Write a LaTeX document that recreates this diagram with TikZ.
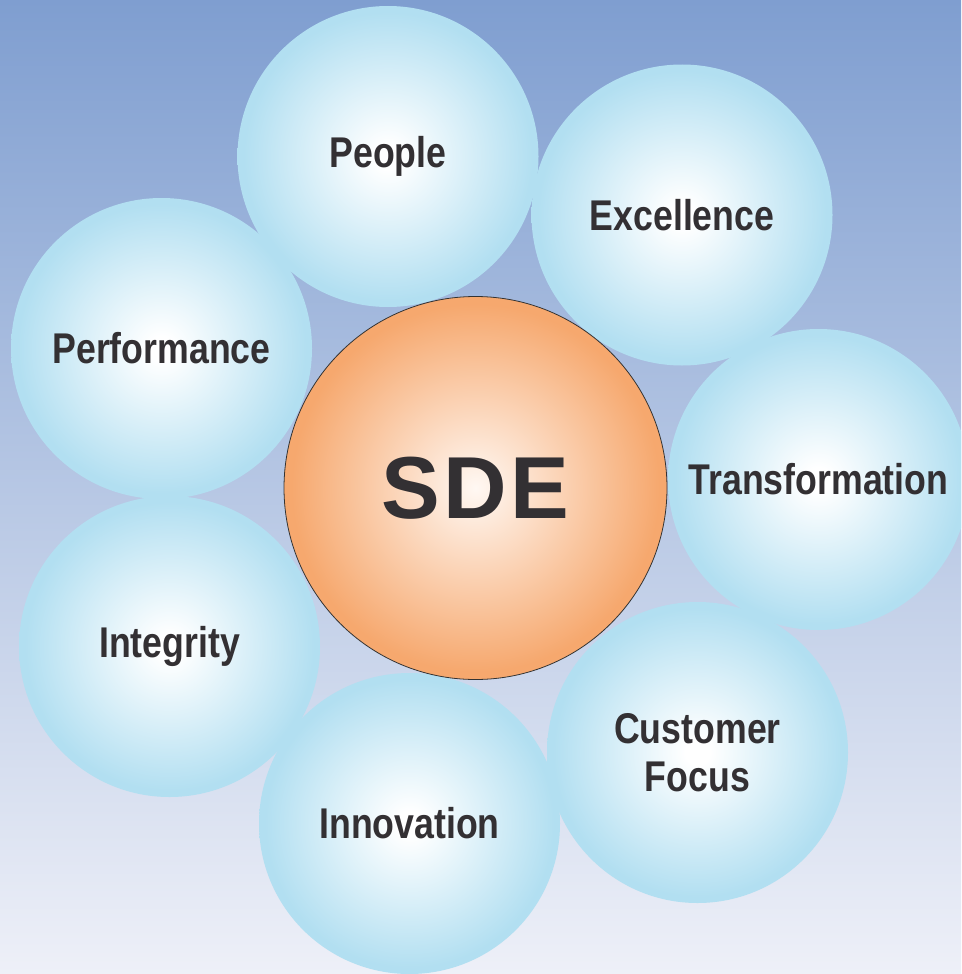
\documentclass[tikz,border=0pt]{standalone}
\usepackage{fontspec}
\setmainfont{Liberation Sans}
\newfontfamily\lblfont{Liberation Sans}[FakeStretch=0.83]
\definecolor{bgtop}{RGB}{127,158,208}
\definecolor{bgbot}{RGB}{238,240,248}
\definecolor{bubedge}{RGB}{178,223,241}
\definecolor{orgedge}{RGB}{246,168,110}
\definecolor{orgin}{RGB}{255,248,243}
\definecolor{txt}{RGB}{51,48,51}
\pgfdeclareradialshading{bubble}{\pgfpoint{0bp}{0bp}}{color(0bp)=(white); color(2bp)=(white); color(24bp)=(bubedge); color(25bp)=(bubedge); color(50bp)=(bubedge)}
\pgfdeclareradialshading{orange}{\pgfpoint{0bp}{0bp}}{color(0bp)=(orgin); color(24bp)=(orgedge); color(25bp)=(orgedge); color(50bp)=(orgedge)}
\tikzset{
  bub/.style={circle, minimum size=301pt, inner sep=0pt, shading=bubble, text=txt,
    font=\lblfont\bfseries\fontsize{43}{48}\selectfont, align=center},
  core/.style={circle, minimum size=383pt, inner sep=0pt, shading=orange, draw=black!80, line width=0.8pt,
    text=txt, font=\bfseries\fontsize{88}{90}\selectfont}
}
\begin{document}
\begin{tikzpicture}[x=1pt,y=-1pt]
\useasboundingbox (0,0) rectangle (961,974);
\clip (0,0) rectangle (961,974);
\shade[top color=bgtop, bottom color=bgbot] (0,0) rectangle (961,974);
\node[bub] (perf) at (161.5,348.5) {Performance};
\node[bub] (integ) at (169.5,646.5) {Integrity};
\node[bub] (innov) at (409.5,823.5) {Innovation};
\node[bub] (cust) at (697.5,752.5) {Customer\\Focus};
\node[bub] (trans) at (818.5,479.5) {Transformation};
\node[bub] (excel) at (682,215) {Excellence};
\node[bub] (people) at (388,156.5) {People};
\node[core] (sde) at (475.5,488) {\addfontfeature{LetterSpace=4}SDE};
\end{tikzpicture}
\end{document}
